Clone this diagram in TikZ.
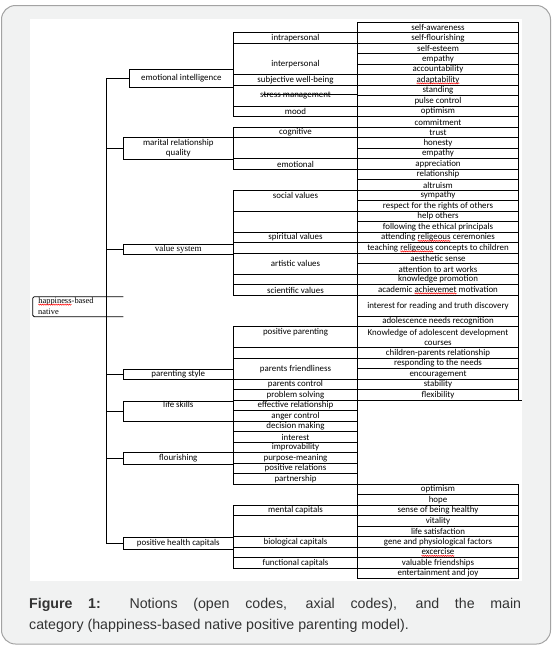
\documentclass[tikz,border=0pt]{standalone}
\usepackage{fontspec}
\setmainfont{Carlito}
\newfontfamily\timesfont{Liberation Serif}
\newfontfamily\arialfont{Liberation Sans}
\usetikzlibrary{calc}
\usetikzlibrary{decorations.pathmorphing}
\definecolor{framegray}{HTML}{F1F2F2}
\definecolor{edgegray}{HTML}{A3A3A3}
\newcommand{\spell}[1]{\tikz[baseline=(sw.base)]{\node[inner sep=0pt, outer sep=0pt] (sw) {#1};
  \draw[red, line width=0.4pt, decorate, decoration={zigzag, amplitude=0.6pt, segment length=1.8pt}]
    ([yshift=-1.3pt]sw.base west) -- ([yshift=-1.3pt]sw.base east);}}
\tikzset{
  declare function={rowy(\k)=22.3+10.5*\k;},
  tbl/.style={line width=0.8pt},
  code/.style={inner sep=0pt, font=\fontsize{8.9}{10}\selectfont, align=center},
  axial/.style={draw, tbl, inner sep=0pt, minimum width=110pt, font=\fontsize{8.9}{10}\selectfont, align=center},
}

\begin{document}
\begin{tikzpicture}[x=1pt,y=-1pt]
\useasboundingbox (0,0) rectangle (552,646);
\filldraw[fill=framegray, draw=edgegray, line width=1pt, rounded corners=14pt] (1.5,5.5) rectangle (550.5,644);
\fill[white] (30,19) rectangle (522,581);

% open codes, right column
\foreach \k/\n/\txt in {0/1/self-awareness, 1/1/self-flourishing, 2/1/self-esteem, 3/1/empathy,
  4/1/accountability, 5/1/\spell{adaptability}, 6/1/standing, 7/1/pulse control, 8/1/optimism,
  9/1/commitment, 10/1/trust, 11/1/honesty, 12/1/empathy, 13/1/appreciation, 14/1/relationship,
  15/1/altruism, 16/1/sympathy, 17/1/respect for the rights of others, 18/1/help others,
  19/1/following the ethical principals, 20/1/attending \spell{religeous} ceremonies,
  21/1/teaching \spell{religeous} concepts to children, 22/1/aesthetic sense,
  23/1/attention to art works, 24/1/knowledge promotion, 25/1/academic \spell{achievemet} motivation,
  26/2/interest for reading and truth discovery, 28/1/adolescence needs recognition,
  29/2/{Knowledge of adolescent development\\courses}, 31/1/children-parents relationship,
  32/1/responding to the needs, 33/1/encouragement, 34/1/stability, 35/1/flexibility,
  44/1/optimism, 45/1/hope, 46/1/sense of being healthy, 47/1/vitality, 48/1/life satisfaction,
  49/1/gene and physiological factors, 50/1/\spell{excercise}, 51/1/valuable friendships,
  52/1/entertainment and joy}{
  \draw[tbl] (357.7,{rowy(\k)}) rectangle (518.3,{rowy(\k+\n)});
  \node[code] (r\k) at (438,{rowy(\k+\n/2)}) {\txt};
}

% middle column
\foreach \k/\n/\t/\txt in {1/1/0.5/intrapersonal, 2/3/2/interpersonal, 5/1/0.5/subjective well-being,
  6/2/1/stress management, 8/1/0.5/mood, 10/1/0.5/cognitive, 11/2/1/{}, 13/1/0.5/emotional,
  16/2/0.45/social values, 18/2/1/{}, 20/1/0.5/spiritual values, 21/1/0.5/{}, 22/2/1/artistic values,
  24/1/0.5/{}, 25/1/0.5/scientific values, 29/2/0.5/positive parenting, 31/1/0.5/{},
  32/2/1/parents friendliness, 34/1/0.5/parents control, 35/1/0.5/problem solving,
  36/1/0.5/effective relationship, 37/1/0.5/anger control, 38/1/0.5/decision making,
  39/1/0.5/interest, 40/1/0.5/improvability, 41/1/0.5/purpose-meaning, 42/1/0.5/positive relations,
  43/1/0.5/partnership, 46/1/0.5/mental capitals, 47/2/1/{}, 49/1/0.5/biological capitals,
  50/1/0.5/{}, 51/1/0.5/functional capitals}{
  \draw[tbl] (233.3,{rowy(\k)}) rectangle (357.7,{rowy(\k+\n)});
  \node[code] (m\k) at (295.5,{rowy(\k+\t)}) {\txt};
}
\draw[tbl] (263,94.5) -- (357.7,94.5);
\draw[tbl] (518.3,{rowy(36)}) -- (522,{rowy(36)});

% axial codes
\node[axial, minimum width=104pt, minimum height=18.7pt] (ei) at (181.3,78.35) {emotional intelligence};
\node[axial, minimum height=21.3pt] (mrq) at (178.3,148.35) {marital relationship\\quality};
\node[axial, minimum height=10.7pt, font=\timesfont\fontsize{9}{10}\selectfont] (vs) at (178.3,249.35) {value system};
\node[axial, minimum height=10.3pt] (ps) at (178.3,374.15) {parenting style};
\node[axial, minimum height=20pt, text depth=13pt] (ls) at (178.3,411) {life skills};
\node[axial, minimum height=12pt] (fl) at (178.3,458.3) {flourishing};
\node[axial, minimum height=11.3pt] (phc) at (178.3,543.35) {positive health capitals};

% main category
\node[inner sep=0pt, anchor=north west, align=left, font=\timesfont\fontsize{8.4}{11}\selectfont] (root) at (38,297.3) {\spell{happiness}-based\\native};
\draw[tbl, rounded corners=1.5pt] (123.3,296.7) -- (32.7,296.7) -- (32.7,316.7) -- (123.3,316.7);

\coordinate (trunk) at (106,0);
\draw[tbl] (trunk |- ei.west) -- (trunk |- phc.west);
\foreach \a in {ei,mrq,vs,ps,ls,fl,phc}
  \draw[tbl] (trunk |- \a.west) -- (\a.west);

\node[anchor=north west, inner sep=0pt, text width=492pt, align=justify, text=black!80,
  font=\arialfont\fontsize{14.2}{21}\selectfont] (caption) at (29,598.5)
  {\tolerance=10000\noindent\textbf{Figure 1:} Notions (open codes, axial codes), and the main\linebreak category (happiness-based native positive parenting model).};
\end{tikzpicture}
\end{document}
